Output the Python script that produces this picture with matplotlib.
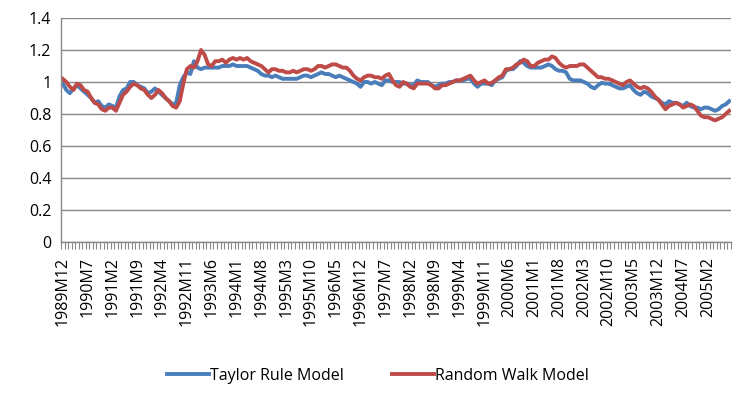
import matplotlib
matplotlib.use("Agg")
import matplotlib.pyplot as plt
import numpy as np

# Monthly categories 1989M12 .. 2005M8
months = []
y, m = 1989, 12
for _ in range(189):
    months.append(f"{y}M{m}")
    m += 1
    if m > 12:
        m = 1
        y += 1

taylor_rule = [
    0.99, 0.95, 0.93, 0.96, 0.98, 0.96, 0.94, 0.92, 0.90, 0.87,
    0.88, 0.85, 0.84, 0.86, 0.85, 0.84, 0.91, 0.95, 0.96, 1.00,
    1.00, 0.98, 0.97, 0.96, 0.93, 0.94, 0.96, 0.94, 0.92, 0.90,
    0.88, 0.86, 0.87, 0.98, 1.03, 1.06, 1.05, 1.13, 1.09, 1.08,
    1.09, 1.09, 1.09, 1.09, 1.09, 1.10, 1.10, 1.10, 1.11, 1.10,
    1.10, 1.10, 1.10, 1.09, 1.08, 1.07, 1.05, 1.04, 1.04, 1.03,
    1.04, 1.03, 1.02, 1.02, 1.02, 1.02, 1.02, 1.03, 1.04, 1.04,
    1.03, 1.04, 1.05, 1.06, 1.05, 1.05, 1.04, 1.03, 1.04, 1.03,
    1.02, 1.01, 1.00, 0.99, 0.97, 1.00, 1.00, 0.99, 1.00, 0.99,
    0.98, 1.01, 1.01, 1.00, 1.00, 1.00, 0.99, 0.99, 0.98, 0.98,
    1.01, 1.00, 1.00, 1.00, 0.98, 0.97, 0.98, 0.99, 0.99, 1.00,
    1.00, 1.01, 1.01, 1.01, 1.02, 1.02, 0.99, 0.97, 0.99, 0.99,
    0.99, 0.98, 1.01, 1.02, 1.03, 1.07, 1.08, 1.08, 1.10, 1.13,
    1.12, 1.10, 1.09, 1.09, 1.09, 1.09, 1.10, 1.11, 1.10, 1.08,
    1.07, 1.07, 1.06, 1.02, 1.01, 1.01, 1.01, 1.00, 0.99, 0.97,
    0.96, 0.98, 0.995, 0.99, 0.99, 0.98, 0.97, 0.96, 0.96, 0.97,
    0.98, 0.95, 0.93, 0.92, 0.94, 0.93, 0.91, 0.90, 0.89, 0.87,
    0.86, 0.88, 0.87, 0.87, 0.86, 0.85, 0.87, 0.85, 0.84, 0.84,
    0.83, 0.84, 0.84, 0.83, 0.82, 0.83, 0.85, 0.86, 0.88,
]

random_walk = [
    1.02, 1.00, 0.97, 0.95, 0.99, 0.98, 0.95, 0.94, 0.90, 0.87,
    0.86, 0.83, 0.82, 0.84, 0.84, 0.82, 0.87, 0.92, 0.94, 0.97,
    0.99, 0.98, 0.96, 0.95, 0.92, 0.90, 0.92, 0.95, 0.93, 0.90,
    0.88, 0.85, 0.84, 0.88, 0.99, 1.08, 1.10, 1.09, 1.13, 1.20,
    1.17, 1.11, 1.10, 1.13, 1.13, 1.14, 1.12, 1.14, 1.15, 1.14,
    1.15, 1.14, 1.15, 1.13, 1.12, 1.11, 1.10, 1.08, 1.06, 1.08,
    1.08, 1.07, 1.07, 1.06, 1.06, 1.07, 1.06, 1.07, 1.08, 1.08,
    1.07, 1.08, 1.10, 1.10, 1.09, 1.10, 1.11, 1.11, 1.10, 1.09,
    1.09, 1.07, 1.04, 1.02, 1.01, 1.03, 1.04, 1.04, 1.03, 1.03,
    1.02, 1.04, 1.05, 1.01, 0.98, 0.97, 1.00, 0.99, 0.97, 0.96,
    0.99, 0.99, 0.99, 0.99, 0.98, 0.96, 0.96, 0.98, 0.98, 0.99,
    1.00, 1.01, 1.01, 1.02, 1.03, 1.04, 1.01, 0.99, 1.00, 1.01,
    0.99, 0.995, 1.01, 1.03, 1.04, 1.08, 1.08, 1.09, 1.11, 1.12,
    1.14, 1.13, 1.10, 1.10, 1.12, 1.13, 1.14, 1.14, 1.16, 1.15,
    1.12, 1.10, 1.09, 1.10, 1.10, 1.10, 1.11, 1.11, 1.09, 1.07,
    1.05, 1.03, 1.03, 1.02, 1.02, 1.01, 1.00, 0.99, 0.98, 1.00,
    1.01, 0.99, 0.97, 0.96, 0.97, 0.96, 0.94, 0.91, 0.89, 0.86,
    0.83, 0.85, 0.86, 0.87, 0.86, 0.84, 0.85, 0.86, 0.85, 0.82,
    0.79, 0.78, 0.78, 0.77, 0.76, 0.77, 0.78, 0.80, 0.82,
]

y_ticks = [0, 0.2, 0.4, 0.6, 0.8, 1, 1.2, 1.4]
y_tick_labels = ["0", "0.2", "0.4", "0.6", "0.8", "1", "1.2", "1.4"]
label_step = 7

plt.rcParams['font.family'] = ['Open Sans', 'DejaVu Sans']

fig = plt.figure(figsize=(7.49, 3.99), dpi=100)
ax = fig.add_axes([61/749, 1 - 242/399, (731 - 61)/749, (242 - 18)/399])

x = np.arange(len(months))
blue = '#4A7EBB'
red = '#BE4B48'
ax.plot(x, taylor_rule, color=blue, lw=2.8, label='Taylor Rule Model', solid_joinstyle='round')
ax.plot(x, random_walk, color=red, lw=2.8, label='Random Walk Model', solid_joinstyle='round')

ax.set_xlim(-0.5, len(months) - 0.5)
ax.set_ylim(0, 1.4)
ax.set_yticks(y_ticks)
ax.set_yticklabels(y_tick_labels, fontsize=11.5)
ax.tick_params(axis='y', length=0, pad=7)
ax.yaxis.grid(True, color='#888888', lw=1)
ax.set_axisbelow(True)

major = x[::label_step]
ax.set_xticks(major)
ax.set_xticklabels([months[i] for i in major], rotation=90, fontsize=11.5)
ax.tick_params(axis='x', which='major', length=0, pad=11)
ax.set_xticks(np.arange(len(months) + 1) - 0.5, minor=True)
ax.tick_params(axis='x', which='minor', length=5, color='#888888', width=0.8, direction='out')

for s in ['top', 'right']:
    ax.spines[s].set_visible(False)
for s in ['left', 'bottom']:
    ax.spines[s].set_color('#888888')
    ax.spines[s].set_linewidth(1)

fig.legend(loc='center', bbox_to_anchor=(0.505, 1 - 376/399), ncol=2, frameon=False,
           fontsize=11.5, handlelength=2.6, handletextpad=0.1, columnspacing=3.0)

fig.savefig('out.png', dpi=100)
